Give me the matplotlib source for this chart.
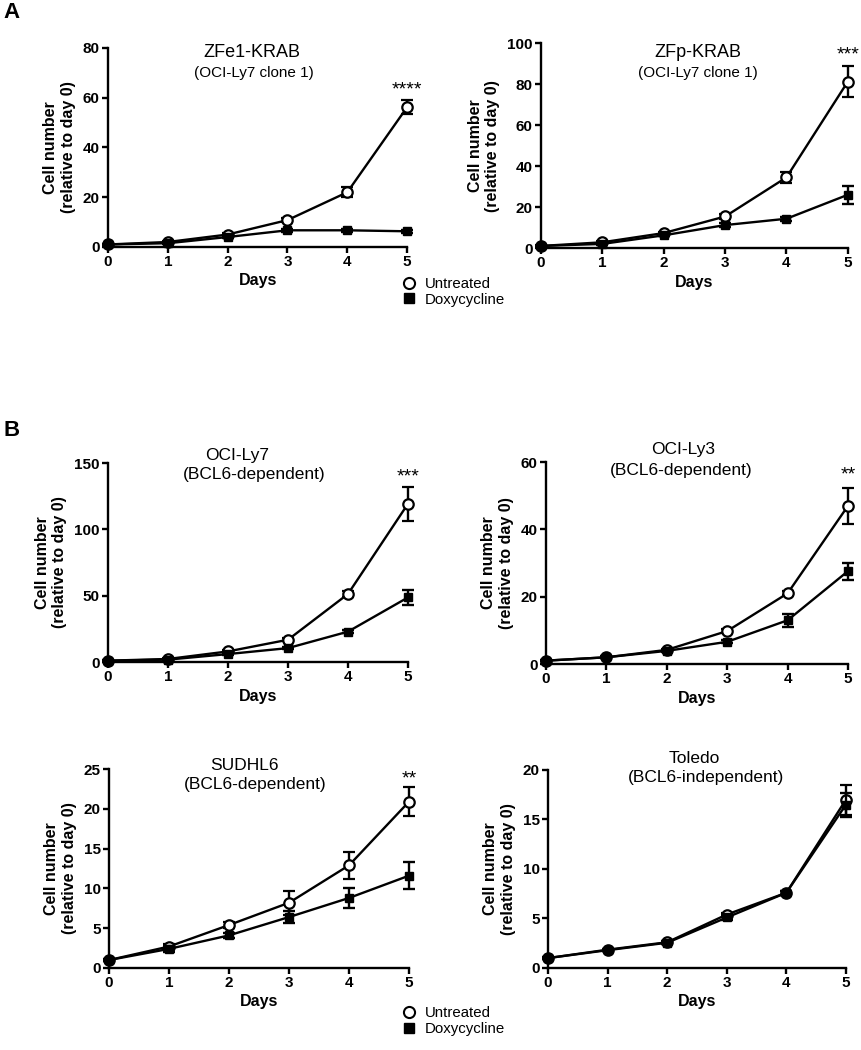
import numpy as np
import matplotlib.pyplot as plt
from matplotlib.lines import Line2D

plt.rcParams["font.family"] = ["Liberation Sans", "DejaVu Sans"]

days = [0, 1, 2, 3, 4, 5]

# Panel A - ZFe1-KRAB
zfe1_untr = [1.0, 2.0, 5.0, 10.8, 22.0, 56.2]
zfe1_untr_err = [0.3, 0.4, 0.5, 0.8, 2.0, 2.8]
zfe1_dox = [1.0, 1.5, 4.0, 6.7, 6.7, 6.3]
zfe1_dox_err = [0.2, 0.2, 0.4, 0.5, 0.5, 0.5]

# Panel A - ZFp-KRAB
zfp_untr = [1.0, 2.8, 7.3, 15.4, 34.5, 81.3]
zfp_untr_err = [0.3, 0.4, 0.6, 1.0, 2.6, 7.6]
zfp_dox = [1.0, 2.0, 6.2, 11.2, 14.3, 26.0]
zfp_dox_err = [0.2, 0.3, 0.5, 0.8, 1.0, 4.5]

# Panel B - OCI-Ly7
ly7_untr = [1.0, 2.3, 8.0, 16.8, 51.3, 119.3]
ly7_untr_err = [0.3, 0.5, 0.8, 1.0, 2.0, 12.8]
ly7_dox = [1.0, 1.8, 6.0, 10.5, 22.9, 48.7]
ly7_dox_err = [0.2, 0.3, 0.5, 0.8, 1.0, 5.9]

# Panel B - OCI-Ly3
ly3_untr = [1.0, 2.0, 4.2, 9.8, 21.0, 47.0]
ly3_untr_err = [0.2, 0.3, 0.4, 0.5, 0.6, 5.3]
ly3_dox = [1.0, 2.0, 3.9, 6.6, 13.0, 27.6]
ly3_dox_err = [0.2, 0.3, 0.4, 0.5, 2.0, 2.5]

# Panel B - SUDHL6
sud_untr = [1.0, 2.7, 5.4, 8.2, 12.9, 20.9]
sud_untr_err = [0.1, 0.3, 0.4, 1.5, 1.7, 1.8]
sud_dox = [1.0, 2.4, 4.1, 6.4, 8.8, 11.6]
sud_dox_err = [0.1, 0.4, 0.3, 0.7, 1.25, 1.7]

# Panel B - Toledo
tol_untr = [1.0, 1.85, 2.6, 5.4, 7.6, 17.0]
tol_untr_err = [0.1, 0.1, 0.15, 0.2, 0.2, 1.5]
tol_dox = [1.0, 1.8, 2.55, 5.1, 7.6, 16.5]
tol_dox_err = [0.1, 0.1, 0.15, 0.3, 0.2, 1.2]

panels = [
    dict(rect=[0.1253, 0.7648, 0.347, 0.1895], untr=zfe1_untr, ue=zfe1_untr_err,
         dox=zfe1_dox, de=zfe1_dox_err, ymax=80, ystep=20,
         t1=("ZFe1-KRAB", 0.48, 0.975, 13), t2=("(OCI-Ly7 clone 1)", 0.487, 0.875, 11),
         stars=("****", 0.79)),
    dict(rect=[0.6276, 0.7638, 0.356, 0.195], untr=zfp_untr, ue=zfp_untr_err,
         dox=zfp_dox, de=zfp_dox_err, ymax=100, ystep=20,
         t1=("ZFp-KRAB", 0.51, 0.955, 13), t2=("(OCI-Ly7 clone 1)", 0.51, 0.855, 11),
         stars=("***", 0.945)),
    dict(rect=[0.1253, 0.3695, 0.348, 0.1895], untr=ly7_untr, ue=ly7_untr_err,
         dox=ly7_dox, de=ly7_dox_err, ymax=150, ystep=50,
         t1=("OCI-Ly7", 0.43, 1.04, 12.5), t2=("(BCL6-dependent)", 0.487, 0.94, 12.5),
         stars=("***", 0.93)),
    dict(rect=[0.6334, 0.3676, 0.3504, 0.1924], untr=ly3_untr, ue=ly3_untr_err,
         dox=ly3_dox, de=ly3_dox_err, ymax=60, ystep=20,
         t1=("OCI-Ly3", 0.454, 1.06, 12.5), t2=("(BCL6-dependent)", 0.447, 0.96, 12.5),
         stars=("**", 0.935)),
    dict(rect=[0.1265, 0.0781, 0.348, 0.1895], untr=sud_untr, ue=sud_untr_err,
         dox=sud_dox, de=sud_dox_err, ymax=25, ystep=5,
         t1=("SUDHL6", 0.45, 1.02, 12.5), t2=("(BCL6-dependent)", 0.487, 0.92, 12.5),
         stars=("**", 0.95)),
    dict(rect=[0.6357, 0.0781, 0.3457, 0.1886], untr=tol_untr, ue=tol_untr_err,
         dox=tol_dox, de=tol_dox_err, ymax=20, ystep=5,
         t1=("Toledo", 0.49, 1.06, 12.5), t2=("(BCL6-independent)", 0.53, 0.96, 12.5),
         stars=None),
]

fig = plt.figure(figsize=(8.62, 10.5), dpi=100)

for p in panels:
    ax = fig.add_axes(p["rect"])
    ax.errorbar(days, p["untr"], yerr=p["ue"], color="black", lw=1.7,
                marker="o", ms=7.5, mfc="white", mec="black", mew=1.6,
                capsize=4.5, capthick=1.7, elinewidth=1.7, clip_on=False, zorder=3)
    ax.errorbar(days, p["dox"], yerr=p["de"], color="black", lw=1.7,
                marker="s", ms=6, mfc="black", mec="black",
                capsize=4.5, capthick=1.7, elinewidth=1.7, clip_on=False, zorder=4)
    ax.set_xlim(0, 5)
    ax.set_ylim(0, p["ymax"])
    ax.set_xticks(days)
    ax.set_yticks(np.arange(0, p["ymax"] + 1, p["ystep"]))
    ax.spines["top"].set_visible(False)
    ax.spines["right"].set_visible(False)
    for s in ["left", "bottom"]:
        ax.spines[s].set_linewidth(1.7)
    ax.tick_params(direction="out", length=4, width=1.7, labelsize=11, pad=2)
    for lab in ax.get_xticklabels() + ax.get_yticklabels():
        lab.set_fontweight("bold")
    ax.set_xlabel("Days", fontsize=11.5, fontweight="bold", labelpad=3)
    ax.set_ylabel("Cell number\n(relative to day 0)", fontsize=11.5, fontweight="bold",
                  labelpad=5)
    txt, x, y, fs = p["t1"]
    ax.text(x, y, txt, transform=ax.transAxes, ha="center", va="center", fontsize=fs)
    txt, x, y, fs = p["t2"]
    ax.text(x, y, txt, transform=ax.transAxes, ha="center", va="center", fontsize=fs)
    if p["stars"]:
        ax.text(1.0, p["stars"][1], p["stars"][0], transform=ax.transAxes,
                ha="center", va="center", fontsize=14)

fig.text(0.004, 0.988, "A", fontsize=16, fontweight="bold", va="center")
fig.text(0.004, 0.590, "B", fontsize=16, fontweight="bold", va="center")

handles = [
    Line2D([], [], ls="none", marker="o", ms=8, mfc="white", mec="black", mew=1.5),
    Line2D([], [], ls="none", marker="s", ms=7, mfc="black", mec="black"),
]
labels = ["Untreated", "Doxycycline"]
for y in [0.722, 0.0275]:
    fig.legend(handles, labels, loc="center left", bbox_to_anchor=(0.468, y),
               frameon=False, fontsize=10.8, handlelength=0.8, handletextpad=0.6,
               labelspacing=0.1, borderpad=0, borderaxespad=0)

fig.savefig("out.png", dpi=100)
